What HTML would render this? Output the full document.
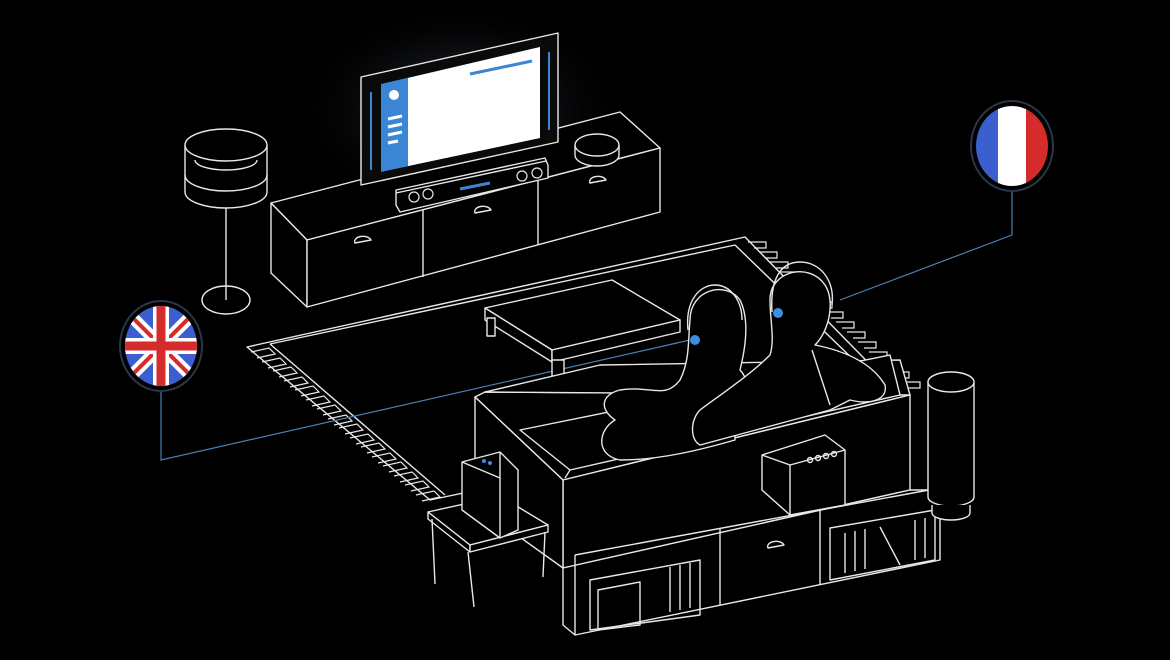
<!DOCTYPE html>
<html><head><meta charset="utf-8"><style>
html,body{margin:0;padding:0;background:#000;}
svg{display:block}
</style></head><body>
<svg width="1170" height="660" viewBox="0 0 1170 660" xmlns="http://www.w3.org/2000/svg">
<defs>
<radialGradient id="glow" cx="0.5" cy="0.5" r="0.5">
<stop offset="0" stop-color="#5a6a80" stop-opacity="0.55"/>
<stop offset="1" stop-color="#000" stop-opacity="0"/>
</radialGradient>
<clipPath id="uk"><ellipse cx="161" cy="346" rx="36" ry="40"/></clipPath>
<clipPath id="fr"><ellipse cx="1012" cy="146" rx="36" ry="40"/></clipPath>
</defs>
<rect width="1170" height="660" fill="#000"/>
<ellipse cx="460" cy="110" rx="170" ry="110" fill="url(#glow)"/>

<g fill="none" stroke="#e8e8e8" stroke-width="1.4" stroke-linejoin="round">
<polygon points="247,347 745,237 905,400 430,500" fill="#000"/>
<polyline points="270,344 735,245" />
<polyline points="270,344 445,495"/>
<polyline points="735,245 890,395"/>
</g>
<g stroke="#e8e8e8" stroke-width="1.2" fill="none">
<path d="M251,352 l18,-4 l6,6 l-18,4 M262,362 l18,-4 l6,6 l-18,4 M273,371 l18,-4 l6,6 l-18,4 M284,381 l18,-4 l6,6 l-18,4 M295,390 l18,-4 l6,6 l-18,4 M306,400 l18,-4 l6,6 l-18,4 M317,409 l18,-4 l6,6 l-18,4 M328,419 l18,-4 l6,6 l-18,4 M339,428 l18,-4 l6,6 l-18,4 M350,438 l18,-4 l6,6 l-18,4 M361,447 l18,-4 l6,6 l-18,4 M372,457 l18,-4 l6,6 l-18,4 M383,466 l18,-4 l6,6 l-18,4 M394,476 l18,-4 l6,6 l-18,4 M405,485 l18,-4 l6,6 l-18,4 M416,495 l18,-4 l6,6 l-18,4"/>
<path d="M748,242 h18 v6 h-12 M759,252 h18 v6 h-12 M770,262 h18 v6 h-12 M781,272 h18 v6 h-12 M792,282 h18 v6 h-12 M803,292 h18 v6 h-12 M814,302 h18 v6 h-12 M825,312 h18 v6 h-12 M836,322 h18 v6 h-12 M847,332 h18 v6 h-12 M858,342 h18 v6 h-12 M869,352 h18 v6 h-12 M880,362 h18 v6 h-12 M891,372 h18 v6 h-12 M902,382 h18 v6 h-12"/>
</g>

<g stroke="#4a7fb5" stroke-width="1.2" fill="none">
<polyline points="161,388 161,460 690,340"/>
<polyline points="1012,188 1012,235 840,300"/>
</g>

<g fill="#000" stroke="#e8e8e8" stroke-width="1.4" stroke-linejoin="round">
<polygon points="271,203 620,112 660,148 307,240"/>
<polygon points="271,203 307,240 307,307 271,273"/>
<polygon points="307,240 660,148 660,212 307,307"/>
<line x1="423" y1="210" x2="423" y2="277"/>
<line x1="538" y1="180" x2="538" y2="245"/>
<path d="M355,243 a8,5 0 0 1 16,-3 z M475,213 a8,5 0 0 1 16,-3 z M590,183 a8,5 0 0 1 16,-3 z"/>

<ellipse cx="226" cy="300" rx="24" ry="14"/>
<line x1="226" y1="190" x2="226" y2="300"/>
<path d="M185,145 L185,192 A41,16 0 0 0 267,192 L267,145"/>
<ellipse cx="226" cy="145" rx="41" ry="16"/>
<path d="M185,175 A41,16 0 0 0 267,175" fill="none"/>
<path d="M195,160 A31,10 0 0 0 257,160" fill="none"/>

<polygon points="361,77 558,33 558,142 361,185" fill="#0a0a0a"/>
<polygon points="396,190 545,158 548,165 548,178 400,212 396,205"/>
<line x1="396" y1="193" x2="546" y2="161"/>
<path d="M575,145 v10 a22,11 0 0 0 44,0 v-10"/>
<ellipse cx="597" cy="145" rx="22" ry="11"/>

<polygon points="485,308 612,280 680,320 552,350"/>
<polygon points="485,308 552,350 552,362 485,320"/>
<polygon points="552,350 680,320 680,332 552,362"/>
<rect x="552" y="360" width="12" height="34"/>
<rect x="487" y="318" width="8" height="18"/>

<polygon points="475,397 485,392 910,395 563,480" />
<polygon points="485,392 600,365 900,360 910,395"/>
<polygon points="563,480 910,395 910,490 563,568"/>
<polygon points="475,397 563,480 563,568 475,505"/>
<polygon points="520,430 890,355 900,395 570,470"/>
<line x1="570" y1="470" x2="565" y2="478"/>

<path d="M690,320 C690,290 725,280 740,300 C750,320 745,350 740,370 C750,380 745,395 735,400 L735,440 C700,450 660,460 620,460 C595,455 598,430 615,420 C600,410 600,395 620,390 C650,385 665,400 680,380 C690,360 688,340 690,320 Z"/>
<path d="M770,300 C770,270 810,262 825,285 C835,300 830,330 815,345 C840,350 870,360 885,385 C888,400 870,405 850,400 L830,410 L700,445 C690,440 690,420 700,410 C720,395 750,375 770,355 C775,340 770,320 770,300 Z"/>
<path d="M688,330 C685,300 700,285 715,285 C730,285 742,300 742,320" fill="none"/>
<path d="M772,312 C770,280 780,262 800,262 C820,262 835,280 832,305" fill="none"/>
<path d="M812,350 L830,405" fill="none"/>
</g>
<g fill="#3a8fe0"><circle cx="695" cy="340" r="5"/><circle cx="778" cy="313" r="5"/></g>

<polygon points="381,84 540,47 540,138 381,172" fill="#3b86d4"/>
<polygon points="408,78 540,47 540,138 408,166" fill="#fff"/>
<line x1="470" y1="74" x2="532" y2="61" stroke="#3b86d4" stroke-width="3"/>
<circle cx="394" cy="95" r="5" fill="#fff"/>
<g stroke="#fff" stroke-width="3"><line x1="388" y1="119" x2="402" y2="116"/><line x1="388" y1="127" x2="402" y2="124"/><line x1="388" y1="135" x2="402" y2="132"/><line x1="388" y1="143" x2="398" y2="141"/></g>
<line x1="371" y1="92" x2="371" y2="170" stroke="#3b86d4" stroke-width="2"/>
<line x1="549" y1="52" x2="549" y2="130" stroke="#3b86d4" stroke-width="2"/>
<line x1="460" y1="189" x2="490" y2="183" stroke="#3b86d4" stroke-width="3"/>
<g fill="none" stroke="#e8e8e8" stroke-width="1.2"><circle cx="414" cy="197" r="5"/><circle cx="428" cy="194" r="5"/><circle cx="522" cy="176" r="5"/><circle cx="537" cy="173" r="5"/></g>

<g fill="#000" stroke="#e8e8e8" stroke-width="1.4" stroke-linejoin="round">
<polygon points="428,512 500,496 548,525 470,545"/>
<polygon points="428,512 470,545 470,552 428,519"/>
<polygon points="470,545 548,525 548,532 470,552"/>
<path d="M432,519 l3,65 M468,552 l6,55 M545,532 l-2,45"/>
<polygon points="462,462 500,452 518,470 518,530 500,538 462,510"/>
<line x1="500" y1="452" x2="500" y2="538"/>
<line x1="462" y1="462" x2="500" y2="478"/>
<polygon points="563,568 910,490 940,490 940,560 575,635 563,625"/>
<line x1="575" y1="555" x2="575" y2="635"/>
<line x1="575" y1="555" x2="940" y2="488"/>
<line x1="720" y1="528" x2="720" y2="605"/>
<line x1="820" y1="510" x2="820" y2="585"/>
<polygon points="590,580 700,560 700,615 590,630" fill="none"/>
<polygon points="830,528 935,510 935,560 830,580" fill="none"/>
<polygon points="598,590 640,582 640,625 598,630" fill="none"/>
<path d="M845,533 v40 M855,531 v40 M865,529 v40 M880,527 l20,38 M915,520 v40 M925,518 v40 M670,567 v45 M680,565 v45 M690,563 v45"/>
<path d="M768,548 a8,5 0 0 1 16,-3 z"/>
<polygon points="762,455 825,435 845,450 845,505 790,515 762,490"/>
<line x1="790" y1="465" x2="790" y2="515"/>
<line x1="762" y1="455" x2="790" y2="465"/>
<line x1="790" y1="465" x2="845" y2="450"/>
<g fill="none"><circle cx="810" cy="460" r="2.5"/><circle cx="818" cy="458" r="2.5"/><circle cx="826" cy="456" r="2.5"/><circle cx="834" cy="454" r="2.5"/></g>
<path d="M928,382 v115 a23,9 0 0 0 46,0 v-115"/>
<ellipse cx="951" cy="382" rx="23" ry="10"/>
<path d="M932,505 v8 a19,7 0 0 0 38,0 v-8"/>
</g>
<g fill="#3a8fe0"><circle cx="484" cy="461" r="2"/><circle cx="490" cy="463" r="2"/></g>

<ellipse cx="161" cy="346" rx="41" ry="45" fill="#000" stroke="#2a3648" stroke-width="2"/>
<g clip-path="url(#uk)">
<rect x="120" y="300" width="82" height="92" fill="#3b5fcf"/>
<path d="M120,305 L202,387 M202,305 L120,387" stroke="#fff" stroke-width="12"/>
<path d="M120,305 L202,387 M202,305 L120,387" stroke="#d62b2b" stroke-width="4"/>
<path d="M161,300 V392 M120,346 H202" stroke="#fff" stroke-width="16"/>
<path d="M161,300 V392 M120,346 H202" stroke="#d62b2b" stroke-width="9"/>
</g>
<ellipse cx="1012" cy="146" rx="41" ry="45" fill="#000" stroke="#2a3648" stroke-width="2"/>
<g clip-path="url(#fr)">
<rect x="970" y="100" width="28" height="92" fill="#3b5fcf"/>
<rect x="998" y="100" width="28" height="92" fill="#fff"/>
<rect x="1026" y="100" width="28" height="92" fill="#d62b2b"/>
</g>
</svg>
</body></html>
